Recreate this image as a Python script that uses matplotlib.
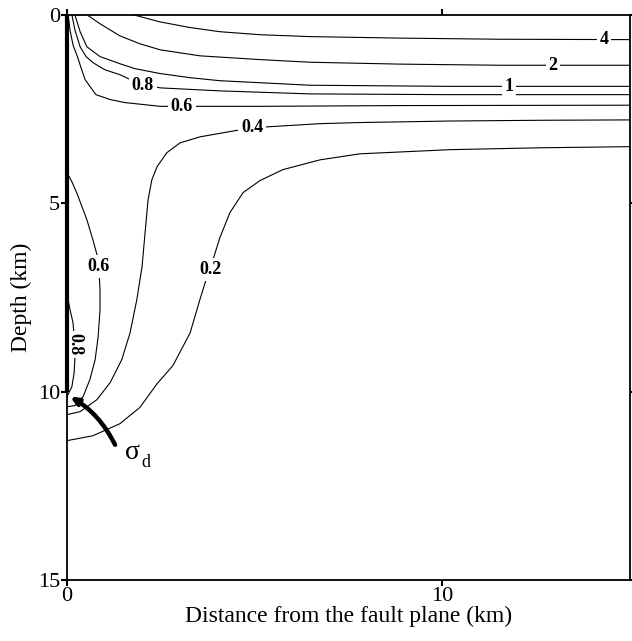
import matplotlib
matplotlib.use('Agg')
import matplotlib.pyplot as plt
import numpy as np

plt.rcParams['font.family'] = ['Liberation Serif', 'DejaVu Serif']

# contour lines: distance (km), depth (km)
c4_x = [1.76, 2.48, 3.28, 4.07, 5.14, 6.47, 8.87, 11.53, 15.0]
c4_z = [0.0, 0.19, 0.34, 0.45, 0.53, 0.58, 0.62, 0.65, 0.66]

c2_x = [0.53, 0.88, 1.41, 1.94, 2.48, 3.54, 5.14, 6.47, 8.87, 11.53, 15.0]
c2_z = [0.0, 0.24, 0.56, 0.77, 0.93, 1.09, 1.19, 1.26, 1.31, 1.34, 1.34]

c1_x = [0.21, 0.35, 0.53, 0.88, 1.41, 1.81, 2.48, 3.28, 4.07, 6.47, 10.2, 15.0]
c1_z = [0.0, 0.45, 0.85, 1.11, 1.30, 1.43, 1.56, 1.67, 1.75, 1.87, 1.90, 1.90]

c08_x = [0.13, 0.21, 0.35, 0.51, 0.69, 1.01, 1.41, 1.81, 2.48, 4.07, 6.47, 10.2, 15.0]
c08_z = [0.0, 0.40, 0.85, 1.11, 1.27, 1.46, 1.59, 1.78, 1.94, 2.02, 2.10, 2.12, 2.12]

c06_x = [0.03, 0.08, 0.16, 0.27, 0.48, 0.77, 1.15, 1.54, 2.48, 5.14, 8.87, 15.0]
c06_z = [0.0, 0.40, 0.80, 1.09, 1.72, 2.12, 2.25, 2.33, 2.43, 2.43, 2.41, 2.40]

c04_x = [0.0, 0.35, 0.80, 1.15, 1.46, 1.68, 1.86, 2.00, 2.08, 2.16, 2.26, 2.40,
         2.66, 3.01, 3.54, 4.34, 4.93, 5.41, 6.74, 7.80, 10.2, 12.6, 15.0]
c04_z = [10.61, 10.53, 10.21, 9.76, 9.15, 8.44, 7.56, 6.68, 5.78, 4.91, 4.38, 4.03,
         3.66, 3.40, 3.24, 3.10, 3.00, 2.97, 2.89, 2.86, 2.82, 2.80, 2.79]

c02_x = [0.0, 0.69, 1.41, 1.94, 2.40, 2.82, 3.28, 3.54, 3.73, 3.89, 4.07, 4.34,
         4.69, 5.14, 5.75, 6.74, 7.80, 10.2, 12.6, 15.0]
c02_z = [11.30, 11.17, 10.85, 10.42, 9.79, 9.31, 8.44, 7.56, 6.95, 6.50, 5.92, 5.25,
         4.72, 4.40, 4.11, 3.85, 3.69, 3.58, 3.53, 3.50]

c06b_x = [0.0, 0.13, 0.27, 0.53, 0.69, 0.80, 0.85, 0.88, 0.88, 0.83, 0.75, 0.61, 0.43, 0.21, 0.0]
c06b_z = [4.19, 4.43, 4.75, 5.44, 5.97, 6.37, 6.76, 7.29, 7.82, 8.54, 9.15, 9.68, 10.13, 10.37, 10.40]

c08b_x = [0.0, 0.03, 0.08, 0.16, 0.21, 0.21, 0.19, 0.13, 0.0]
c08b_z = [7.35, 7.56, 7.82, 8.17, 8.75, 9.15, 9.50, 9.87, 10.13]

lines = [(c4_x, c4_z), (c2_x, c2_z), (c1_x, c1_z), (c08_x, c08_z), (c06_x, c06_z),
         (c04_x, c04_z), (c02_x, c02_z), (c06b_x, c06b_z), (c08b_x, c08b_z)]

# contour labels: text, x, depth, rotation
labels = [('4', 14.30, 0.66, 0), ('2', 12.94, 1.35, 0), ('1', 11.77, 1.91, 0),
          ('0.8', 2.02, 1.88, 0), ('0.6', 3.06, 2.44, 0), ('0.4', 4.93, 3.00, 0),
          ('0.6', 0.83, 6.68, 0), ('0.2', 3.83, 6.76, 0), ('0.8', 0.21, 8.75, -90)]

fault_depth = 10.0

fig = plt.figure(figsize=(6.32, 6.41), dpi=100)
ax = fig.add_axes([0.106, 0.095, 0.891, 0.882])

for x, z in lines:
    ax.plot(x, z, color='black', linewidth=0.8)

for txt, x, z, rot in labels:
    ax.text(x, z, txt, ha='center', va='center', rotation=rot, fontsize=13,
            fontweight='bold', zorder=5,
            bbox=dict(boxstyle='square,pad=0.15', fc='white', ec='none'))

# fault plane
ax.plot([0, 0], [0, fault_depth], color='black', linewidth=3, solid_capstyle='butt',
        clip_on=False, zorder=6)

# sigma_d arrow
ax.annotate('', xy=(0.08, 10.13), xytext=(1.28, 11.41),
            arrowprops=dict(arrowstyle='-|>,head_length=0.45,head_width=0.2', color='black',
                            lw=3.2, connectionstyle='arc3,rad=0.15', shrinkA=0, shrinkB=0))
ax.text(1.55, 11.62, '\u03c3', fontsize=20, ha='left', va='center')
ax.text(1.98, 11.88, 'd', fontsize=13, ha='left', va='center')

ax.set_xlim(0, 15)
ax.set_ylim(15, 0)
ax.set_xticks([0, 10])
ax.set_yticks([0, 5, 10, 15])
ax.tick_params(direction='out', length=4, width=1.5, labelsize=16, pad=1,
               top=True, right=True)
for s in ax.spines.values():
    s.set_linewidth(1.3)

ax.set_xlabel('Distance from the fault plane (km)', fontsize=17, labelpad=0)
ax.set_ylabel('Depth (km)', fontsize=17, labelpad=4)

fig.savefig('out.png', dpi=100)
